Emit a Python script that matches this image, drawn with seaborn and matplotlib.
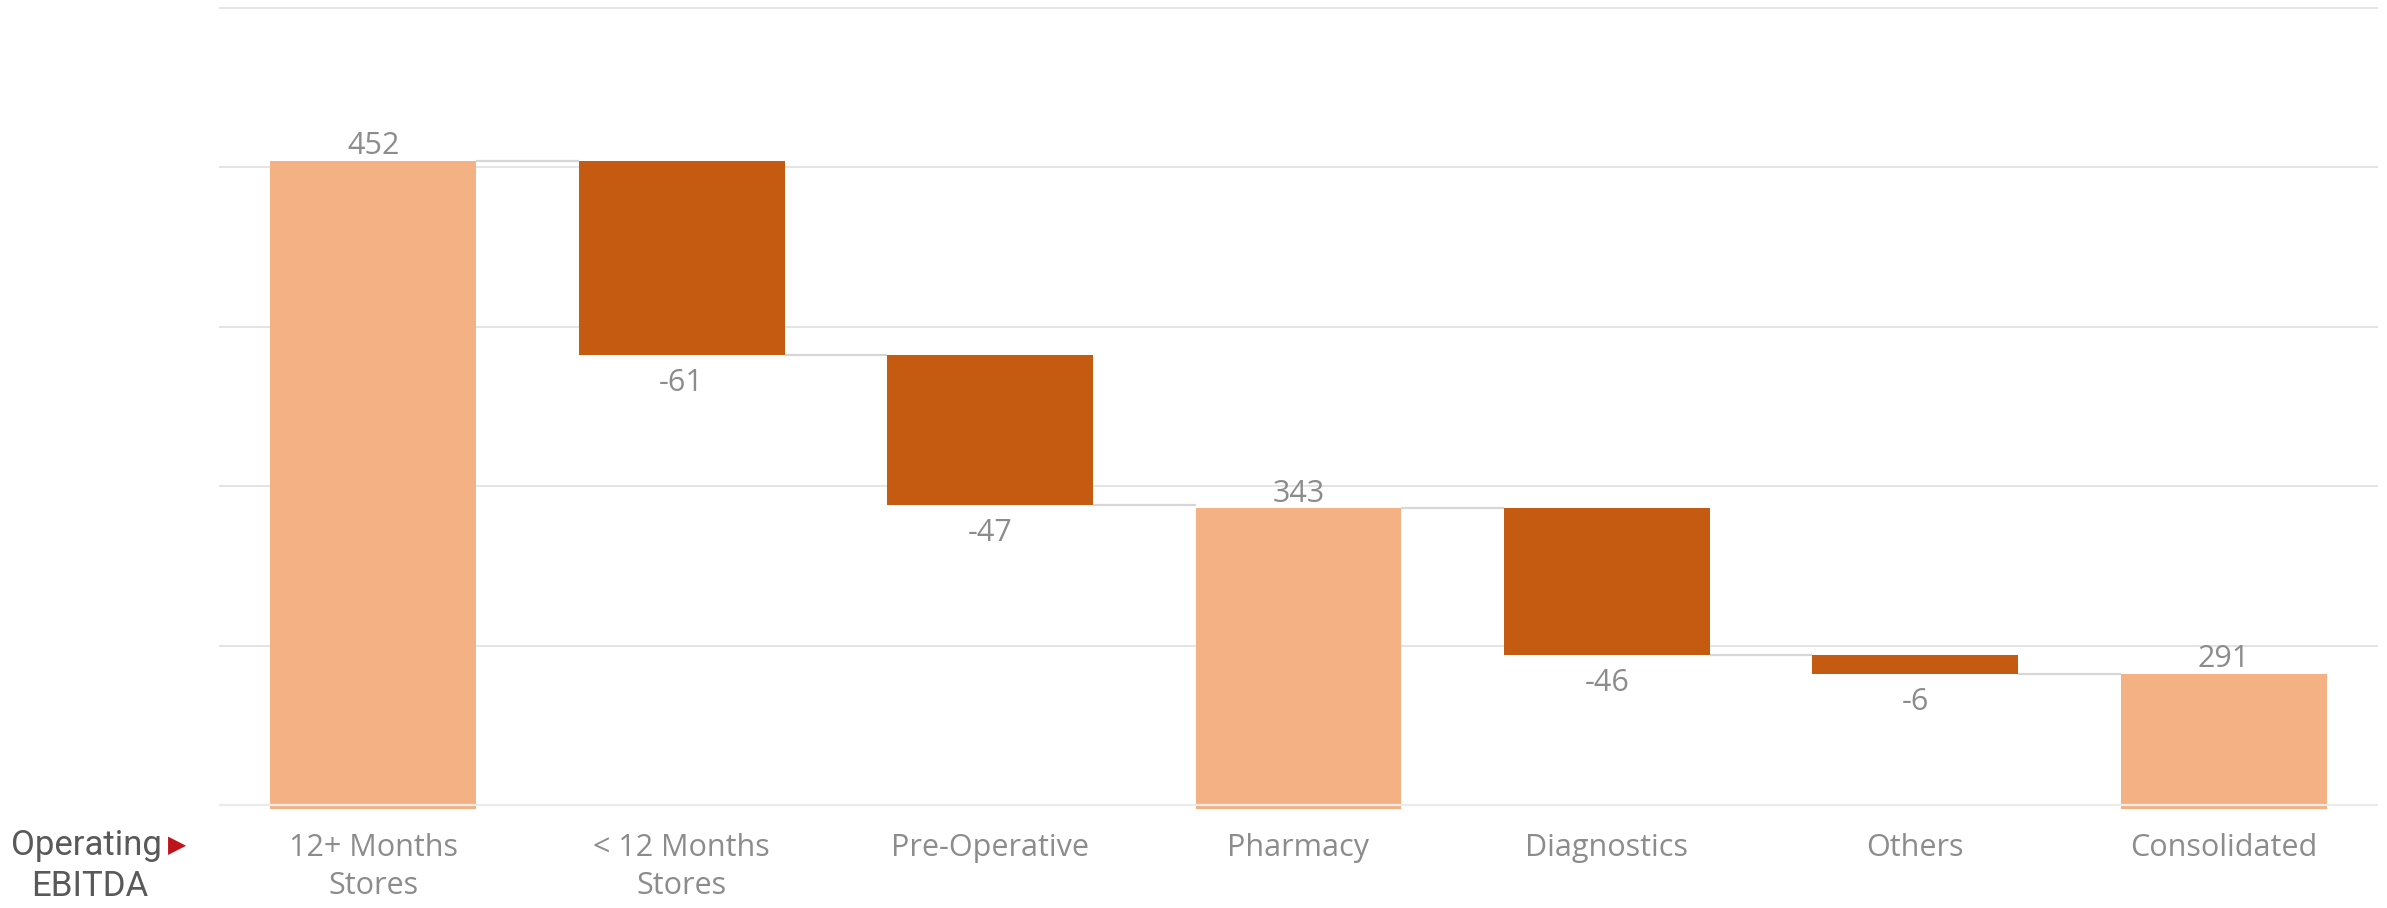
import matplotlib
matplotlib.use("Agg")
import matplotlib.pyplot as plt
import seaborn as sns
import numpy as np
import pandas as pd

# EBITDA bridge data
categories = ["12+ Months\nStores", "< 12 Months\nStores", "Pre-Operative",
              "Pharmacy", "Diagnostics", "Others", "Consolidated"]
values = [452, -61, -47, 343, -46, -6, 291]
is_total = [True, False, False, True, False, False, True]
grid_ticks = [250, 300, 350, 400, 450, 500]
side_label_top = "Operating"
side_label_bottom = "EBITDA"

TOTAL_COLOR = "#F4B183"
DELTA_COLOR = "#C55A11"
TEXT_GRAY = "#8c8c8c"
GRID_GRAY = "#e4e4e4"
BAR_WIDTH = 0.667

sns.set_style("white")
plt.rcParams["font.family"] = ["Open Sans", "DejaVu Sans"]

y_lo, y_hi = 248.8, 500.8

# floating segments for the waterfall
bottoms, tops, ends = [], [], []
level = None
for v, tot in zip(values, is_total):
    if tot:
        lo, hi = y_lo, v
        level = v
    else:
        start = level
        level = level + v
        lo, hi = min(start, level), max(start, level)
    bottoms.append(lo)
    tops.append(hi)
    ends.append(level)

df = pd.DataFrame({"category": categories,
                   "height": np.array(tops) - np.array(bottoms),
                   "bottom": bottoms})

fig = plt.figure(figsize=(23.87, 9.08), dpi=100)
ax = fig.add_axes([219 / 2387, 99 / 908, (2378 - 219) / 2387, 804 / 908])

sns.barplot(data=df, x="category", y="height", order=categories,
            bottom=df["bottom"].values, width=BAR_WIDTH, color=TOTAL_COLOR,
            errorbar=None, ax=ax, zorder=2, linewidth=0)
for patch, tot in zip(ax.patches, is_total):
    patch.set_facecolor(TOTAL_COLOR if tot else DELTA_COLOR)
    patch.set_alpha(1)

# connectors between consecutive bars
half = BAR_WIDTH / 2
for i in range(len(values) - 1):
    ax.plot([i + half, i + 1 - half], [ends[i], ends[i]],
            color="#d6d6d6", lw=1.6, zorder=1, solid_capstyle="butt")

# value labels
for i, (v, tot) in enumerate(zip(values, is_total)):
    if v >= 0:
        ax.annotate(f"{v}", (i, tops[i]), xytext=(0, 5), textcoords="offset points",
                    ha="center", va="baseline", fontsize=22, color=TEXT_GRAY)
    else:
        ax.annotate(f"{v}", (i, bottoms[i]), xytext=(0, -9), textcoords="offset points",
                    ha="center", va="top", fontsize=22, color=TEXT_GRAY)

ax.set_xlim(-0.5, len(categories) - 0.5)
ax.set_ylim(y_lo, y_hi)
ax.set_yticks(grid_ticks)
ax.yaxis.grid(True, color=GRID_GRAY, lw=1.4, zorder=0)
ax.set_axisbelow(True)
ax.axhline(grid_ticks[0], color="#ebebeb", lw=1.6, zorder=3)
ax.tick_params(axis="y", left=False, labelleft=False)
ax.tick_params(axis="x", length=0, pad=17, labelsize=22, labelcolor=TEXT_GRAY)
ax.set_xlabel("")
ax.set_ylabel("")
ax.set_xticks(range(len(categories)))
ax.set_xticklabels(categories, linespacing=1.35)
for s in ax.spines.values():
    s.set_visible(False)

# side caption with pointer
side_font = dict(fontsize=25, color="#595959", family=["Roboto", "DejaVu Sans"])
fig.text(162 / 2387, 1 - 846 / 908, side_label_top, ha="right", va="center", **side_font)
fig.text(90 / 2387, 1 - 887 / 908, side_label_bottom, ha="center", va="center", **side_font)
fig.text(177 / 2387, 1 - 845 / 908, "\u25B6", ha="center", va="center",
         fontsize=17, color="#C0141C", family=["DejaVu Sans"])

fig.savefig("out.png", dpi=100)
